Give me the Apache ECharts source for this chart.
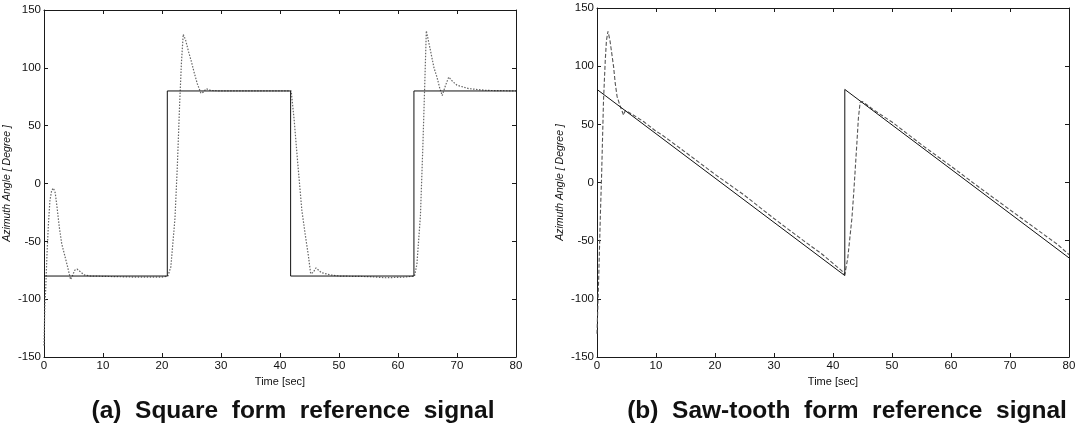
<!DOCTYPE html>
<html>
<head>
<meta charset="utf-8">
<script src="https://cdn.jsdelivr.net/npm/echarts@6/dist/echarts.min.js"></script>
<style>
html,body{margin:0;padding:0;background:#fff;}
#c{width:1082px;height:435px;}
</style>
</head>
<body>
<div id="c"></div>
<script>
// ---- data ----
var sqRefT = [0, 20.9, 20.9, 41.8, 41.8, 62.7, 62.7, 80];
var sqRefV = [-80, -80, 80, 80, -80, -80, 80, 80];

var sqRespT = [0, 0.15, 0.3, 0.5, 0.75, 1.0, 1.3, 1.6, 1.9, 2.2, 2.6, 3.0, 3.5, 4.0, 4.5, 4.8, 5.2, 5.6, 6.1, 6.8, 8, 12, 16, 20,
  21.0, 21.5, 22.2, 22.6, 23.0, 23.3, 23.6, 24.0, 24.5, 25.0, 25.5, 26.0, 26.6, 27.0, 27.5, 28.2, 30, 35, 40,
  41.9, 42.4, 43.0, 43.7, 44.3, 44.8, 45.2, 45.6, 46.1, 47, 48.5, 50, 55, 58, 61,
  62.8, 63.2, 63.8, 64.2, 64.5, 64.8, 65.5, 66.1, 66.6, 67.1, 67.5, 68.0, 68.6, 69.3, 70, 72, 75, 80];
var sqRespV = [-140, -105, -90, -62, -35, -15, -6, -4, -8, -20, -38, -52, -62, -72, -83, -80, -75, -74, -76, -79, -80, -80.5, -81, -81,
  -80, -72, -30, 15, 70, 105, 129, 124, 114, 105, 95, 86, 78, 79, 82, 80.5, 80, 80, 80,
  80, 55, 18, -23, -45, -62, -78, -77, -73, -77, -79, -80, -80.5, -81.5, -81,
  -80, -70, -28, 30, 80, 132, 115, 100, 92, 82, 76, 84, 92, 88, 85, 82, 80.5, 80];

var sawRefT = [0, 42, 42, 80];
var sawRefV = [80, -80, 80, -64.8];

var sawRespT = [0, 0.3, 0.56, 0.8, 1.1, 1.4, 1.6, 1.86, 2.2, 2.8, 3.1, 3.4, 3.9, 4.5, 4.8, 6, 8, 10, 11, 15, 20, 25, 30, 35, 38, 40, 41.5, 42,
  42.5, 43.2, 43.5, 44, 44.3, 44.6, 45, 47, 50, 55, 60, 65, 70, 75, 78, 80];
var sawRespV = [-130, -80, -30, 10, 70, 105, 122, 130, 122, 100, 85, 74, 66, 58, 62, 58.5, 52, 44, 41, 26, 7, -11, -31, -50, -61, -69.5, -76, -79,
  -65, -31, -10, 30, 55, 69, 69.5, 62, 52, 32.5, 14, -5, -23.5, -42, -53, -62];

var xTickStep = 10;
var yTickStep = 50;
var captionA = '(a)  Square  form  reference  signal';
var captionB = '(b)  Saw-tooth  form  reference  signal';
var yName = 'Azimuth Angle [ Degree ]';
var xName = 'Time [sec]';

function pairs(t, v) { return t.map(function (x, i) { return [x, v[i]]; }); }

var FONT = 'Liberation Sans';
var lineCol = '#1a1a1a';

function xAxes(g) {
  return [
    { type: 'value', gridIndex: g, min: 0, max: 80, interval: xTickStep, position: 'bottom',
      name: xName, nameLocation: 'middle', nameGap: 17,
      nameTextStyle: { fontFamily: FONT, fontSize: 11, color: '#111' },
      axisLine: { show: true, onZero: false, lineStyle: { color: lineCol, width: 1 } },
      axisTick: { show: true, inside: true, length: 4, lineStyle: { color: lineCol } },
      axisLabel: { fontFamily: FONT, fontSize: 11.5, color: '#111', margin: 3 },
      splitLine: { show: false } },
    { type: 'value', gridIndex: g, min: 0, max: 80, interval: xTickStep, position: 'top',
      axisLine: { show: true, onZero: false, lineStyle: { color: lineCol, width: 1 } },
      axisTick: { show: true, inside: true, length: 4, lineStyle: { color: lineCol } },
      axisLabel: { show: false }, splitLine: { show: false } }
  ];
}
function yAxes(g) {
  return [
    { type: 'value', gridIndex: g, min: -150, max: 150, interval: yTickStep, position: 'left',
      name: yName, nameLocation: 'middle', nameGap: 31, nameRotate: 90,
      nameTextStyle: { fontFamily: FONT, fontSize: 10.5, fontStyle: 'italic', color: '#111' },
      axisLine: { show: true, onZero: false, lineStyle: { color: lineCol, width: 1 } },
      axisTick: { show: true, inside: true, length: 4, lineStyle: { color: lineCol } },
      axisLabel: { fontFamily: FONT, fontSize: 11.5, color: '#111', margin: 3 },
      splitLine: { show: false } },
    { type: 'value', gridIndex: g, min: -150, max: 150, interval: yTickStep, position: 'right',
      axisLine: { show: true, onZero: false, lineStyle: { color: lineCol, width: 1 } },
      axisTick: { show: true, inside: true, length: 4, lineStyle: { color: lineCol } },
      axisLabel: { show: false }, splitLine: { show: false } }
  ];
}

var chart = echarts.init(document.getElementById('c'), null, { renderer: 'canvas' });
chart.setOption({
  animation: false,
  backgroundColor: '#fff',
  grid: [
    { left: 44, top: 10, width: 472, height: 347, containLabel: false },
    { left: 597, top: 8, width: 472, height: 349, containLabel: false }
  ],
  xAxis: xAxes(0).concat(xAxes(1)),
  yAxis: yAxes(0).concat(yAxes(1)),
  graphic: [
    { type: 'text', x: 293, y: 411,
      style: { text: captionA, fontFamily: FONT, fontSize: 24.5, fontWeight: 'bold', fill: '#111',
               align: 'center', verticalAlign: 'middle' } },
    { type: 'text', x: 847, y: 411,
      style: { text: captionB, fontFamily: FONT, fontSize: 24.5, fontWeight: 'bold', fill: '#111',
               align: 'center', verticalAlign: 'middle' } }
  ],
  series: [
    { type: 'line', xAxisIndex: 0, yAxisIndex: 0, data: pairs(sqRefT, sqRefV), showSymbol: false,
      lineStyle: { color: '#111', width: 1 }, z: 3 },
    { type: 'line', xAxisIndex: 0, yAxisIndex: 0, data: pairs(sqRespT, sqRespV), showSymbol: false,
      lineStyle: { color: '#666', width: 1.2, type: [1.5, 1.5] }, z: 2 },
    { type: 'line', xAxisIndex: 2, yAxisIndex: 2, data: pairs(sawRefT, sawRefV), showSymbol: false,
      lineStyle: { color: '#111', width: 1 }, z: 3 },
    { type: 'line', xAxisIndex: 2, yAxisIndex: 2, data: pairs(sawRespT, sawRespV), showSymbol: false,
      lineStyle: { color: '#555', width: 1.1, type: [4, 2] }, z: 2 }
  ]
});
</script>
</body>
</html>
